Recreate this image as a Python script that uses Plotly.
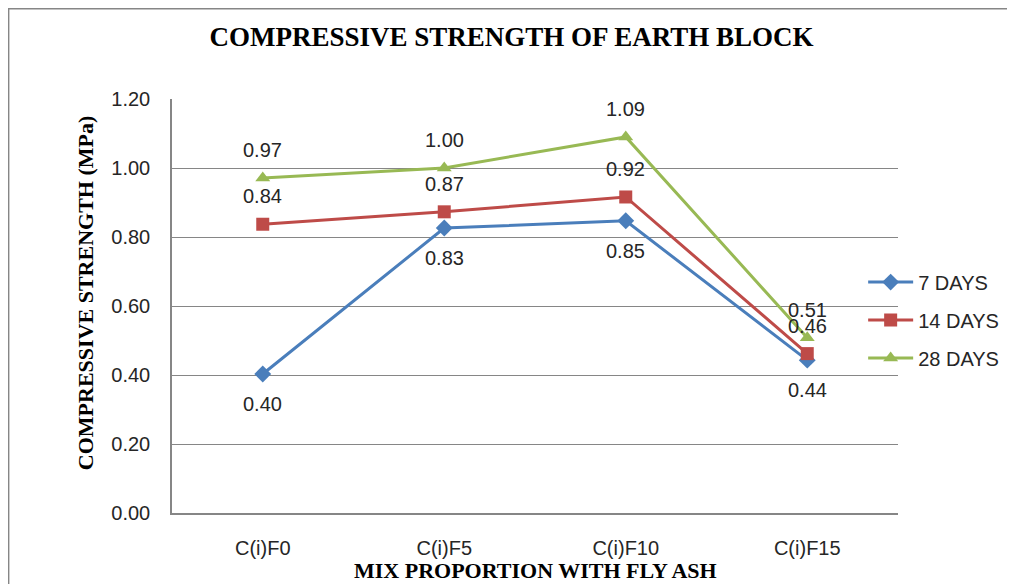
import plotly.graph_objects as go

categories = ["C(i)F0", "C(i)F5", "C(i)F10", "C(i)F15"]
days7 = [0.403, 0.826, 0.847, 0.443]
days14 = [0.837, 0.873, 0.916, 0.462]
days28 = [0.971, 1.000, 1.090, 0.508]
series_names = ["7 DAYS", "14 DAYS", "28 DAYS"]
colors = ["#4A7EBB", "#BE4B48", "#98B954"]
symbols = ["diamond", "square", "triangle-up"]
label_shift = [-30, 28, 28]

fig = go.Figure()
xs = list(range(len(categories)))
for vals, name, col, sym in zip([days7, days14, days28], series_names, colors, symbols):
    fig.add_trace(go.Scatter(
        x=xs, y=vals, name=name, mode="lines+markers", legendgroup=name,
        line=dict(color=col, width=3),
        marker=dict(symbol=sym, size=13, color=col),
    ))

annotations = []
for vals, sh in zip([days7, days14, days28], label_shift):
    for xi, v in zip(xs, vals):
        annotations.append(dict(x=xi, y=v, xref="x", yref="y", text=f"{v:.2f}",
                                showarrow=False, yshift=sh,
                                font=dict(family="Liberation Sans", size=20, color="#262626")))

# axis titles
annotations.append(dict(text="<b>COMPRESSIVE STRENGTH (MPa)</b>", xref="paper", yref="paper",
                        x=-0.1198, y=0.531, xanchor="center", yanchor="middle", textangle=-90,
                        showarrow=False,
                        font=dict(family="Liberation Serif", size=22, color="black")))
annotations.append(dict(text="<b>MIX PROPORTION WITH FLY ASH</b>", xref="paper", yref="paper",
                        x=0.5, y=-0.139, xanchor="center", yanchor="middle",
                        showarrow=False,
                        font=dict(family="Liberation Serif", size=22, color="black")))

fig.update_layout(
    width=1007, height=576,
    margin=dict(l=164, r=117, t=91, b=71, autoexpand=False),
    paper_bgcolor="white", plot_bgcolor="white",
    title=dict(text="<b>COMPRESSIVE STRENGTH OF EARTH BLOCK</b>", x=0.5, xanchor="center",
               y=0.95, yanchor="middle",
               font=dict(family="Liberation Serif", size=27, color="black")),
    xaxis=dict(range=[-0.5, 3.5], tickmode="array", tickvals=xs, ticktext=categories,
               showgrid=False, showline=True, linecolor="#868686", linewidth=1.5, mirror=False,
               ticks="", ticklabelstandoff=16, automargin=False,
               tickfont=dict(family="Liberation Sans", size=20, color="#262626"),
               zeroline=False),
    yaxis=dict(range=[0, 1.2], tickmode="linear", tick0=0, dtick=0.2, tickformat=".2f",
               showgrid=True, gridcolor="#868686", gridwidth=1,
               showline=True, linecolor="#868686", linewidth=1.5,
               ticks="", ticklabelstandoff=16, automargin=False,
               tickfont=dict(family="Liberation Sans", size=20, color="#262626"),
               zeroline=False),
    legend=dict(x=0.952, xanchor="left", y=0.466, yanchor="middle", bgcolor="rgba(0,0,0,0)",
                font=dict(family="Liberation Sans", size=20, color="#262626"),
                tracegroupgap=9, itemwidth=45),
    annotations=annotations,
    shapes=[dict(type="rect", xref="paper", yref="paper", x0=-0.225, x1=1.154, y0=-0.25, y1=1.218,
                 line=dict(color="#868686", width=1.5), layer="below")],
)

fig.write_html("out.html")
